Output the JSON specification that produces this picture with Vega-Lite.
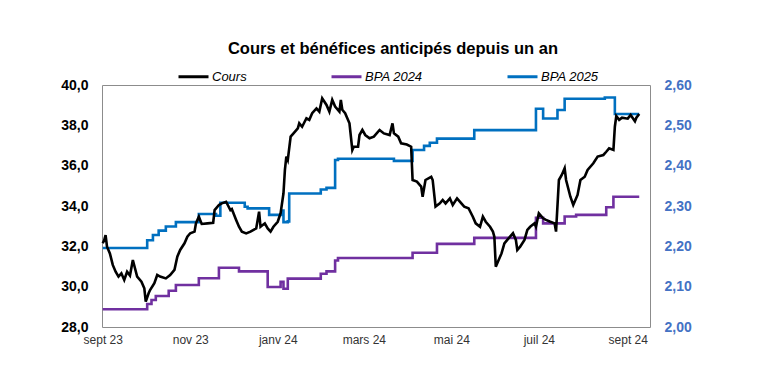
{
  "$schema": "https://vega.github.io/schema/vega-lite/v6.json",
  "width": 548,
  "height": 242,
  "autosize": {"type": "none"},
  "padding": {"left": 102, "top": 85, "right": 110, "bottom": 44},
  "background": "white",
  "title": {
    "text": "Cours et bénéfices anticipés depuis un an",
    "font": "Liberation Sans",
    "fontSize": 16.5,
    "fontWeight": "bold",
    "color": "#000000",
    "anchor": "middle",
    "dx": 17,
    "offset": 3
  },
  "config": {
    "view": {"stroke": "#8c8c8c", "strokeWidth": 1},
    "axis": {"grid": false, "domain": false, "ticks": false, "tickSize": 0, "title": null, "labelFont": "Liberation Sans"},
    "legend": {"labelFont": "Liberation Sans"}
  },
  "datasets": {
    "cours": [
      {"d":"2023-09-01","v":32.15},{"d":"2023-09-02","v":32.30},{"d":"2023-09-03","v":32.56},{"d":"2023-09-04","v":31.98},
      {"d":"2023-09-06","v":31.65},{"d":"2023-09-08","v":31.08},{"d":"2023-09-10","v":30.74},{"d":"2023-09-12","v":30.50},
      {"d":"2023-09-14","v":30.66},{"d":"2023-09-16","v":30.33},{"d":"2023-09-18","v":30.74},{"d":"2023-09-20","v":30.55},
      {"d":"2023-09-22","v":31.32},{"d":"2023-09-25","v":30.50},{"d":"2023-09-28","v":30.25},{"d":"2023-09-30","v":29.92},
      {"d":"2023-10-01","v":29.26},{"d":"2023-10-03","v":29.67},{"d":"2023-10-04","v":29.83},{"d":"2023-10-07","v":30.17},
      {"d":"2023-10-09","v":30.58},{"d":"2023-10-11","v":30.50},{"d":"2023-10-15","v":30.41},{"d":"2023-10-18","v":30.58},
      {"d":"2023-10-21","v":30.83},{"d":"2023-10-23","v":31.49},{"d":"2023-10-25","v":31.82},{"d":"2023-10-28","v":32.15},
      {"d":"2023-10-30","v":32.48},{"d":"2023-11-01","v":32.65},{"d":"2023-11-04","v":32.73},{"d":"2023-11-05","v":33.14},
      {"d":"2023-11-07","v":33.47},{"d":"2023-11-09","v":33.11},{"d":"2023-11-13","v":33.14},{"d":"2023-11-17","v":33.17},
      {"d":"2023-11-18","v":33.80},{"d":"2023-11-21","v":34.05},{"d":"2023-11-23","v":34.13},{"d":"2023-11-26","v":34.21},
      {"d":"2023-11-29","v":33.80},{"d":"2023-11-30","v":33.85},{"d":"2023-12-03","v":33.31},{"d":"2023-12-05","v":32.97},
      {"d":"2023-12-07","v":32.73},{"d":"2023-12-10","v":32.64},{"d":"2023-12-13","v":32.73},{"d":"2023-12-17","v":32.89},
      {"d":"2023-12-19","v":33.72},{"d":"2023-12-20","v":32.97},{"d":"2023-12-23","v":33.14},{"d":"2023-12-25","v":32.89},
      {"d":"2023-12-27","v":32.73},{"d":"2023-12-29","v":32.97},{"d":"2024-01-01","v":33.22},{"d":"2024-01-03","v":33.64},
      {"d":"2024-01-05","v":34.63},{"d":"2024-01-06","v":35.79},{"d":"2024-01-07","v":36.45},{"d":"2024-01-08","v":36.28},
      {"d":"2024-01-10","v":37.44},{"d":"2024-01-12","v":37.60},{"d":"2024-01-15","v":37.85},{"d":"2024-01-16","v":38.10},
      {"d":"2024-01-18","v":37.93},{"d":"2024-01-21","v":38.35},{"d":"2024-01-23","v":38.27},{"d":"2024-01-25","v":38.60},
      {"d":"2024-01-28","v":38.84},{"d":"2024-01-30","v":38.68},{"d":"2024-02-01","v":39.34},{"d":"2024-02-04","v":39.01},
      {"d":"2024-02-06","v":38.68},{"d":"2024-02-08","v":39.26},{"d":"2024-02-10","v":38.93},{"d":"2024-02-13","v":38.68},
      {"d":"2024-02-14","v":39.26},{"d":"2024-02-15","v":38.77},{"d":"2024-02-17","v":38.60},{"d":"2024-02-20","v":38.10},
      {"d":"2024-02-22","v":36.78},{"d":"2024-02-23","v":36.94},{"d":"2024-02-26","v":36.94},{"d":"2024-02-27","v":37.52},
      {"d":"2024-02-29","v":37.77},{"d":"2024-03-02","v":37.52},{"d":"2024-03-05","v":37.36},{"d":"2024-03-08","v":37.44},
      {"d":"2024-03-12","v":37.77},{"d":"2024-03-15","v":37.60},{"d":"2024-03-19","v":37.52},{"d":"2024-03-21","v":38.10},
      {"d":"2024-03-22","v":37.60},{"d":"2024-03-25","v":37.44},{"d":"2024-03-27","v":37.11},{"d":"2024-03-31","v":37.05},
      {"d":"2024-04-03","v":36.94},{"d":"2024-04-04","v":35.29},{"d":"2024-04-07","v":35.21},{"d":"2024-04-10","v":34.96},
      {"d":"2024-04-11","v":34.46},{"d":"2024-04-13","v":35.29},{"d":"2024-04-17","v":35.45},{"d":"2024-04-18","v":35.29},
      {"d":"2024-04-20","v":33.97},{"d":"2024-04-23","v":34.13},{"d":"2024-04-25","v":34.30},{"d":"2024-04-27","v":34.13},
      {"d":"2024-04-30","v":34.38},{"d":"2024-05-02","v":34.05},{"d":"2024-05-05","v":34.38},{"d":"2024-05-08","v":34.13},
      {"d":"2024-05-10","v":33.97},{"d":"2024-05-13","v":33.89},{"d":"2024-05-16","v":33.47},{"d":"2024-05-18","v":33.14},
      {"d":"2024-05-21","v":32.97},{"d":"2024-05-23","v":33.47},{"d":"2024-05-25","v":33.22},{"d":"2024-05-28","v":32.97},
      {"d":"2024-05-30","v":32.73},{"d":"2024-05-31","v":32.48},{"d":"2024-06-01","v":30.99},{"d":"2024-06-03","v":31.32},
      {"d":"2024-06-05","v":31.65},{"d":"2024-06-07","v":32.15},{"d":"2024-06-09","v":32.32},{"d":"2024-06-13","v":32.65},
      {"d":"2024-06-15","v":32.32},{"d":"2024-06-16","v":31.82},{"d":"2024-06-18","v":31.98},{"d":"2024-06-21","v":32.32},
      {"d":"2024-06-23","v":32.81},{"d":"2024-06-25","v":32.97},{"d":"2024-06-28","v":33.14},{"d":"2024-06-29","v":32.97},
      {"d":"2024-07-01","v":33.64},{"d":"2024-07-04","v":33.39},{"d":"2024-07-06","v":33.31},{"d":"2024-07-09","v":33.22},
      {"d":"2024-07-12","v":33.14},{"d":"2024-07-13","v":32.73},{"d":"2024-07-15","v":35.29},{"d":"2024-07-17","v":35.54},
      {"d":"2024-07-19","v":35.87},{"d":"2024-07-20","v":35.29},{"d":"2024-07-23","v":34.46},{"d":"2024-07-25","v":34.05},
      {"d":"2024-07-28","v":34.55},{"d":"2024-07-30","v":35.29},{"d":"2024-08-02","v":35.45},{"d":"2024-08-04","v":35.79},
      {"d":"2024-08-08","v":36.12},{"d":"2024-08-11","v":36.45},{"d":"2024-08-15","v":36.53},{"d":"2024-08-17","v":36.69},
      {"d":"2024-08-19","v":36.86},{"d":"2024-08-22","v":36.78},{"d":"2024-08-23","v":37.93},{"d":"2024-08-24","v":38.46},
      {"d":"2024-08-26","v":38.27},{"d":"2024-08-28","v":38.38},{"d":"2024-09-01","v":38.33},{"d":"2024-09-03","v":38.51},
      {"d":"2024-09-06","v":38.20},{"d":"2024-09-07","v":38.38},{"d":"2024-09-09","v":38.56}
    ],
    "bpa": [
      {"s":"BPA 2024","d":"2023-09-01","v":2.044},{"s":"BPA 2024","d":"2023-10-02","v":2.057},{"s":"BPA 2024","d":"2023-10-05","v":2.067},
      {"s":"BPA 2024","d":"2023-10-08","v":2.077},{"s":"BPA 2024","d":"2023-10-17","v":2.090},{"s":"BPA 2024","d":"2023-10-22","v":2.104},
      {"s":"BPA 2024","d":"2023-11-07","v":2.121},{"s":"BPA 2024","d":"2023-11-21","v":2.147},{"s":"BPA 2024","d":"2023-12-05","v":2.138},
      {"s":"BPA 2024","d":"2023-12-25","v":2.099},{"s":"BPA 2024","d":"2024-01-03","v":2.112},{"s":"BPA 2024","d":"2024-01-05","v":2.095},
      {"s":"BPA 2024","d":"2024-01-08","v":2.120},{"s":"BPA 2024","d":"2024-01-31","v":2.132},{"s":"BPA 2024","d":"2024-02-04","v":2.138},
      {"s":"BPA 2024","d":"2024-02-10","v":2.165},{"s":"BPA 2024","d":"2024-02-12","v":2.171},{"s":"BPA 2024","d":"2024-04-04","v":2.184},
      {"s":"BPA 2024","d":"2024-04-21","v":2.206},{"s":"BPA 2024","d":"2024-05-17","v":2.221},{"s":"BPA 2024","d":"2024-06-29","v":2.271},
      {"s":"BPA 2024","d":"2024-07-04","v":2.257},{"s":"BPA 2024","d":"2024-07-19","v":2.274},{"s":"BPA 2024","d":"2024-07-27","v":2.278},
      {"s":"BPA 2024","d":"2024-08-17","v":2.297},{"s":"BPA 2024","d":"2024-08-22","v":2.323},{"s":"BPA 2024","d":"2024-09-09","v":2.323},
      {"s":"BPA 2025","d":"2023-09-01","v":2.196},{"s":"BPA 2025","d":"2023-10-02","v":2.215},{"s":"BPA 2025","d":"2023-10-06","v":2.228},
      {"s":"BPA 2025","d":"2023-10-10","v":2.239},{"s":"BPA 2025","d":"2023-10-15","v":2.249},{"s":"BPA 2025","d":"2023-10-22","v":2.260},
      {"s":"BPA 2025","d":"2023-11-07","v":2.280},{"s":"BPA 2025","d":"2023-11-19","v":2.276},{"s":"BPA 2025","d":"2023-11-22","v":2.308},
      {"s":"BPA 2025","d":"2023-12-09","v":2.298},{"s":"BPA 2025","d":"2023-12-11","v":2.294},{"s":"BPA 2025","d":"2023-12-26","v":2.278},
      {"s":"BPA 2025","d":"2024-01-04","v":2.289},{"s":"BPA 2025","d":"2024-01-05","v":2.260},{"s":"BPA 2025","d":"2024-01-08","v":2.262},
      {"s":"BPA 2025","d":"2024-01-09","v":2.331},{"s":"BPA 2025","d":"2024-01-31","v":2.341},{"s":"BPA 2025","d":"2024-02-04","v":2.345},
      {"s":"BPA 2025","d":"2024-02-10","v":2.414},{"s":"BPA 2025","d":"2024-02-12","v":2.417},{"s":"BPA 2025","d":"2024-03-22","v":2.412},
      {"s":"BPA 2025","d":"2024-04-04","v":2.439},{"s":"BPA 2025","d":"2024-04-12","v":2.449},{"s":"BPA 2025","d":"2024-04-16","v":2.457},
      {"s":"BPA 2025","d":"2024-04-21","v":2.467},{"s":"BPA 2025","d":"2024-05-17","v":2.488},{"s":"BPA 2025","d":"2024-06-29","v":2.541},
      {"s":"BPA 2025","d":"2024-07-04","v":2.517},{"s":"BPA 2025","d":"2024-07-14","v":2.538},{"s":"BPA 2025","d":"2024-07-19","v":2.566},
      {"s":"BPA 2025","d":"2024-08-16","v":2.569},{"s":"BPA 2025","d":"2024-08-23","v":2.528},{"s":"BPA 2025","d":"2024-09-09","v":2.528}
    ]
  },
  "layer": [
    {
      "data": {"name": "bpa"},
      "mark": {"type": "line", "interpolate": "step-after", "strokeWidth": 2.6},
      "encoding": {
        "x": {
          "field": "d", "type": "temporal",
          "scale": {"type": "utc", "domain": [{"year": 2023, "month": 8, "date": 31, "hours": 12, "utc": true}, {"year": 2024, "month": 9, "date": 16, "hours": 12, "utc": true}]},
          "axis": {
            "values": [
              {"year": 2023, "month": 9, "date": 1, "utc": true},
              {"year": 2023, "month": 11, "date": 1, "utc": true},
              {"year": 2024, "month": 1, "date": 1, "utc": true},
              {"year": 2024, "month": 3, "date": 1, "utc": true},
              {"year": 2024, "month": 5, "date": 1, "utc": true},
              {"year": 2024, "month": 7, "date": 1, "utc": true},
              {"year": 2024, "month": 9, "date": 1, "utc": true}
            ],
            "labelExpr": "['janv','févr','mars','avr','mai','juin','juil','août','sept','oct','nov','déc'][utcmonth(datum.value)] + ' ' + utcFormat(datum.value, '%y')",
            "labelFontSize": 12,
            "labelColor": "#333333",
            "labelPadding": 7,
            "labelFlush": false,
            "labelOverlap": false
          }
        },
        "y": {
          "field": "v", "type": "quantitative",
          "scale": {"domain": [2.0, 2.6], "nice": false, "zero": false},
          "axis": {
            "orient": "right",
            "values": [2.0, 2.1, 2.2, 2.3, 2.4, 2.5, 2.6],
            "labelExpr": "replace(format(datum.value, '.2f'), '.', ',')",
            "labelFontSize": 14,
            "labelFontWeight": "bold",
            "labelColor": "#4472C4",
            "labelPadding": 14
          }
        },
        "color": {
          "field": "s", "type": "nominal",
          "scale": {"domain": ["Cours", "BPA 2024", "BPA 2025"], "range": ["#000000", "#7030A0", "#0070C0"]},
          "legend": {
            "orient": "none",
            "legendX": 75,
            "legendY": -25,
            "direction": "horizontal",
            "title": null,
            "symbolType": "stroke",
            "symbolSize": 900,
            "symbolStrokeWidth": 3,
            "labelOffset": 2,
            "columnPadding": 78,
            "labelFontSize": 13,
            "labelFontStyle": "italic",
            "labelColor": "#000000"
          }
        }
      }
    },
    {
      "data": {"name": "cours"},
      "mark": {"type": "line", "strokeWidth": 2.6, "color": "#000000"},
      "encoding": {
        "x": {"field": "d", "type": "temporal"},
        "y": {
          "field": "v", "type": "quantitative",
          "scale": {"domain": [28, 40], "nice": false, "zero": false},
          "axis": {
            "orient": "left",
            "values": [28, 30, 32, 34, 36, 38, 40],
            "labelExpr": "replace(format(datum.value, '.1f'), '.', ',')",
            "labelFontSize": 14,
            "labelFontWeight": "bold",
            "labelColor": "#000000",
            "labelPadding": 14
          }
        },
        "color": {"datum": "Cours"}
      }
    }
  ],
  "resolve": {"scale": {"y": "independent"}, "axis": {"y": "independent"}}
}
